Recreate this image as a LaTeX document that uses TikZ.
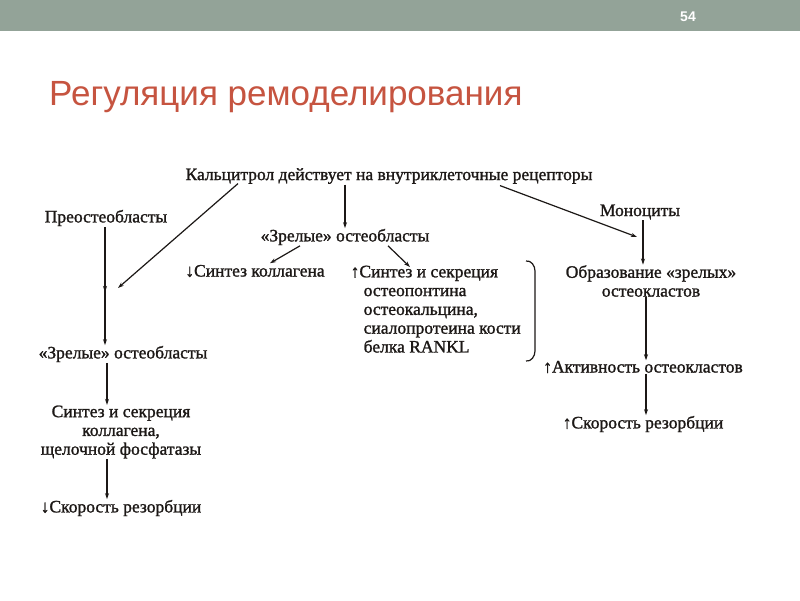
\documentclass[tikz,border=0pt]{standalone}
\usepackage{fontspec}
\setmainfont{Liberation Serif}
\newfontfamily\titlefont{Liberation Sans}
\newfontfamily\diagfont[FakeBold=1.3]{Liberation Serif}
\usetikzlibrary{arrows.meta,calc}
\definecolor{barcol}{RGB}{147,163,152}
\definecolor{titlecol}{RGB}{198,84,64}
\definecolor{inkcol}{RGB}{28,24,22}
\tikzset{
  lbl/.style={inner sep=0.5pt, font=\diagfont\fontsize{17.5}{18.8}\selectfont, text=inkcol, align=center},
  conn/.style={draw=inkcol, line width=1.2pt, -{Stealth[length=6pt,width=4pt]}},
}
\begin{document}
\begin{tikzpicture}[x=1pt,y=-1pt]
\useasboundingbox (0,0) rectangle (800,600);
\fill[white] (0,0) rectangle (800,600);
\fill[barcol] (0,0) rectangle (800,31);
\node[text=white, font=\titlefont\bfseries\fontsize{14}{16}\selectfont] (num) at (688,17) {54};
\node[anchor=base west, text=titlecol, font=\titlefont\fontsize{35}{40}\selectfont, inner sep=0pt] (title) at (49,105) {Регуляция ремоделирования};

\node[lbl] (calc) at (389,176) {Кальцитрол действует на внутриклеточные рецепторы};
\node[lbl] (preo) at (106,218) {Преостеобласты};
\node[lbl] (zrel1) at (345,237) {«Зрелые» остеобласты};
\node[lbl] (mono) at (640,212) {Моноциты};
\node[lbl] (sk) at (255,271) {↓Синтез коллагена};
\node[lbl, align=left, anchor=north west] (ss) at (350,265) {↑Синтез и секреция\\
\hspace*{13pt}остеопонтина\\
\hspace*{13pt}остеокальцина,\\
\hspace*{13pt}сиалопротеина кости\\
\hspace*{13pt}белка RANKL};
\node[lbl] (obr) at (651,281) {Образование «зрелых»\\остеокластов};
\node[lbl] (akt) at (643,367) {↑Активность остеокластов};
\node[lbl] (skr) at (643,424) {↑Скорость резорбции};
\node[lbl] (zrel2) at (123,354) {«Зрелые» остеобласты};
\node[lbl] (sint) at (121,432) {Синтез и секреция\\коллагена,\\щелочной фосфатазы};
\node[lbl] (skl) at (121,508) {↓Скорость резорбции};

\coordinate (j) at (105,287);
\coordinate (lx) at (107,0);
\coordinate (monoarr) at (637,237);
\coordinate (rx1) at (643,0);
\coordinate (rx2) at (646,0);

% left column
\draw[conn] (preo.south -| j) -- ([yshift=-5]j);
\draw[conn] ([xshift=-151,yshift=1]calc.south) -- ([xshift=13,yshift=-1]j);
\draw[conn] ([yshift=5]j) -- (zrel2.north -| j);
\draw[conn] (zrel2.south -| lx) -- (sint.north -| lx);
\draw[conn] (sint.south -| lx) -- (skl.north -| lx);

% middle
\draw[conn] (calc.south -| zrel1.north) -- (zrel1.north);
\draw[conn] ([xshift=-45]zrel1.south) -- ([xshift=15,yshift=1]sk.north);
\draw[conn] ([xshift=43]zrel1.south) -- ([xshift=60,yshift=-2]ss.north west);

% right
\draw[conn] ([xshift=111,yshift=-1]calc.south) -- (monoarr);
\draw[conn] (mono.south -| rx1) -- (obr.north -| rx1);
\draw[conn] (obr.south -| rx2) -- (akt.north -| rx2);
\draw[conn] (akt.south -| rx2) -- (skr.north -| rx2);

% brace
\draw[inkcol, line width=1.2pt] (526,261) to[out=10,in=90] (535,271) -- (535,351) to[out=-90,in=-10] (526,361);
\end{tikzpicture}
\end{document}
